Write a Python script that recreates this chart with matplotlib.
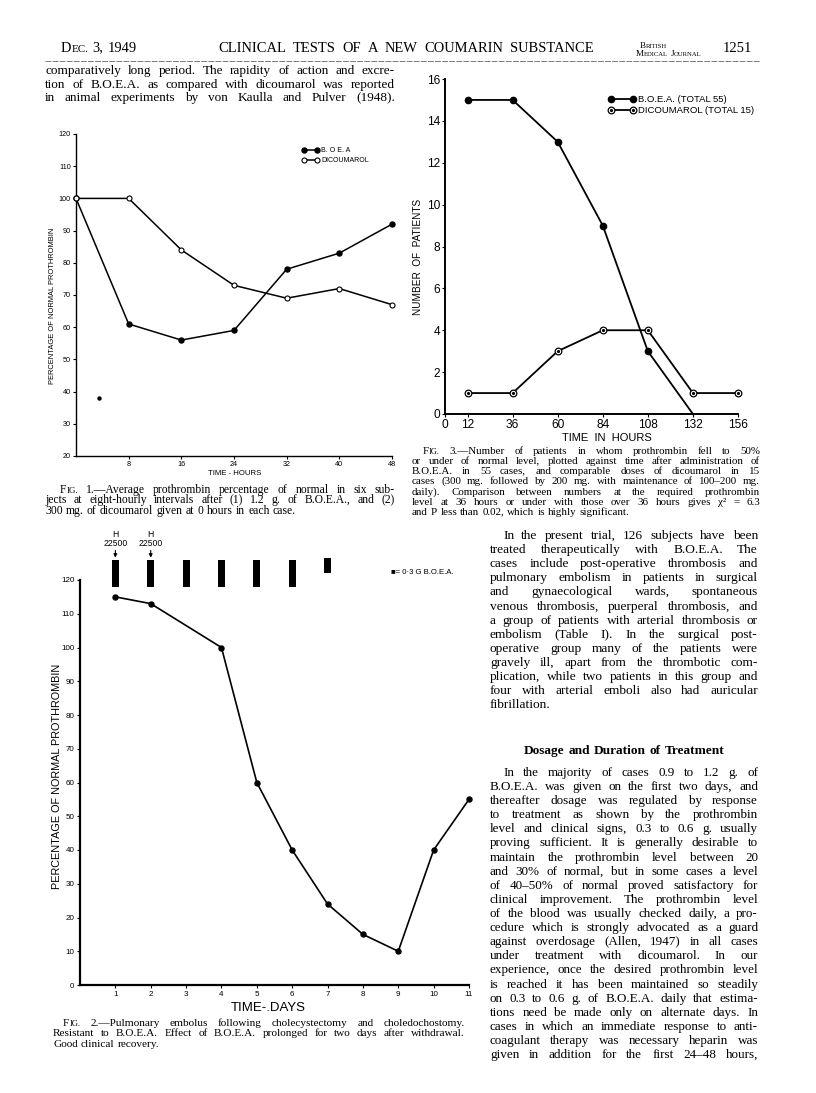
import math
import matplotlib
matplotlib.use("Agg")
import matplotlib.pyplot as plt
from matplotlib.lines import Line2D
from matplotlib.legend_handler import HandlerTuple

W, H = 816, 1093
SERIF = "Liberation Serif"
SANS = "Liberation Sans"

# ---- Fig. 1: average prothrombin % over 48 h
f1_hours = [0, 8, 16, 24, 32, 40, 48]
f1_boea = [100, 61, 56, 59, 78, 83, 92]
f1_dicoumarol = [100, 100, 84, 73, 69, 72, 67]
f1_speck_x = [3.5]
f1_speck_y = [38]

# ---- Fig. 3: patients whose prothrombin fell to 50%
f3_boea_hours = [12, 36, 60, 84, 108, 132]
f3_boea = [15, 15, 13, 9, 3, 0]
f3_dic_hours = [12, 36, 60, 84, 108, 132, 156]
f3_dicoumarol = [1, 1, 3, 4, 4, 1, 1]

# ---- Fig. 2: single case over 11 days
f2_days = [1, 2, 4, 5, 6, 7, 8, 9, 10, 11]
f2_prothrombin = [115, 113, 100, 60, 40, 24, 15, 10, 40, 55]
f2_dose_days = [1, 2, 3, 4, 5, 6, 7]
f2_dose_low = [118, 118, 118, 118, 118, 118, 122]
f2_dose_high = [126, 126, 126, 126, 126, 126, 126.5]
f2_heparin_days = [1, 2]
f2_heparin_units = ["22500", "22500"]

# ---- page text
top_para = [
    "comparatively long period. The rapidity of action and excre-",
    "tion of B.O.E.A. as compared with dicoumarol was reported",
    "in animal experiments by von Kaulla and Pulver (1948).",
]
fig1_caption = [
    "FIG. 1.\u2014Average prothrombin percentage of normal in six sub-",
    "jects at eight-hourly intervals after (1) 1.2 g. of B.O.E.A., and (2)",
    "300 mg. of dicoumarol given at 0 hours in each case.",
]
fig3_caption = [
    "FIG. 3.\u2014Number of patients in whom prothrombin fell to 50%",
    "or under of normal level, plotted against time after administration of",
    "B.O.E.A. in 55 cases, and comparable doses of dicoumarol in 15",
    "cases (300 mg. followed by 200 mg. with maintenance of 100\u2013200 mg.",
    "daily).  Comparison between numbers at the required prothrombin",
    "level at 36 hours or under with those over 36 hours gives \u03c7\u00b2 = 6.3",
    "and P less than 0.02, which is highly significant.",
]
fig2_caption = [
    "FIG. 2.\u2014Pulmonary embolus following cholecystectomy and choledochostomy.",
    "Resistant to B.O.E.A.  Effect of B.O.E.A. prolonged for two days after withdrawal.",
    "Good clinical recovery.",
]
para1 = [
    "In the present trial, 126 subjects have been",
    "treated therapeutically with B.O.E.A. The",
    "cases include post-operative thrombosis and",
    "pulmonary embolism in patients in surgical",
    "and gynaecological wards, spontaneous",
    "venous thrombosis, puerperal thrombosis, and",
    "a group of patients with arterial thrombosis or",
    "embolism (Table I). In the surgical post-",
    "operative group many of the patients were",
    "gravely ill, apart from the thrombotic com-",
    "plication, while two patients in this group and",
    "four with arterial emboli also had auricular",
    "fibrillation.",
]
heading = "Dosage and Duration of Treatment"
para2 = [
    "In the majority of cases 0.9 to 1.2 g. of",
    "B.O.E.A. was given on the first two days, and",
    "thereafter dosage was regulated by response",
    "to treatment as shown by the prothrombin",
    "level and clinical signs, 0.3 to 0.6 g. usually",
    "proving sufficient. It is generally desirable to",
    "maintain the prothrombin level between 20",
    "and 30% of normal, but in some cases a level",
    "of 40\u201350% of normal proved satisfactory for",
    "clinical improvement. The prothrombin level",
    "of the blood was usually checked daily, a pro-",
    "cedure which is strongly advocated as a guard",
    "against overdosage (Allen, 1947) in all cases",
    "under treatment with dicoumarol. In our",
    "experience, once the desired prothrombin level",
    "is reached it has been maintained so steadily",
    "on 0.3 to 0.6 g. of B.O.E.A. daily that estima-",
    "tions need be made only on alternate days. In",
    "cases in which an immediate response to anti-",
    "coagulant therapy was necessary heparin was",
    "given in addition for the first 24\u201348 hours,",
]

SMALLCAPS = {"FIG.", "DEC.", "BRITISH", "MEDICAL", "JOURNAL"}

fig = plt.figure(figsize=(W / 100, H / 100), dpi=100)
fig.patch.set_facecolor("white")
R = fig.canvas.get_renderer()


def rect(l, t, r, b):
    return [l / W, 1 - b / H, (r - l) / W, (b - t) / H]


def T(x, y, s, **kw):
    return fig.text(x / W, 1 - y / H, s, **kw)


def make_word(w, fs, family=SERIF, weight="normal", sc=0.76):
    if w in SMALLCAPS:
        arts = [fig.text(0, 0, w[0], fontsize=fs, family=family),
                fig.text(0, 0, w[1:], fontsize=fs * sc, family=family)]
    else:
        arts = [fig.text(0, 0, w, fontsize=fs, family=family, weight=weight)]
    return arts, [a.get_window_extent(R).width for a in arts]


def snapped_baseline(a, y):
    # Agg rounds each word's bitmap by its own descent; shift so that all
    # words of a line land on the same pixel row
    _, h, d = R.get_text_width_height_descent(a.get_text(),
                                              a.get_fontproperties(), False)
    return y + math.floor(h) - math.floor(h - d) - d


def natural_width(line, fs, **kw):
    total = 0
    words = line.split()
    for w in words:
        arts, ws = make_word(w, fs, **kw)
        total += sum(ws)
        for a in arts:
            a.remove()
    return total + (len(words) - 1) * fs * 100 / 72 * 0.25


def words_line(x0, x1, y, line, fs, justify=True, center=None, **kw):
    y = round(y)
    pieces = [make_word(w, fs, **kw) for w in line.split()]
    widths = [sum(ws) for _, ws in pieces]
    n = len(pieces)
    if justify and n > 1:
        gap = (x1 - x0 - sum(widths)) / (n - 1)
    else:
        gap = fs * 100 / 72 * 0.28
    if center is not None:
        x0 = center - (sum(widths) + gap * (n - 1)) / 2
    x = x0
    for arts, ws in pieces:
        for a, w in zip(arts, ws):
            a.set_va("baseline")
            a.set_position((x / W, 1 - snapped_baseline(a, y) / H))
            x += w
        x += gap


def fit_size(lines, x0, x1, indent, fs0, last_full):
    # size at which the tightest justified line has normal spacing
    ratios = []
    for i, ln in enumerate(lines):
        if i == len(lines) - 1 and not last_full:
            continue
        avail = x1 - x0 - (indent if i == 0 else 0)
        ratios.append(avail / natural_width(ln, fs0))
    return fs0 * min(ratios)


def block(lines, x0, x1, y0, step, fs0, indent=0, last_full=False, loose=0.92):
    fs = fit_size(lines, x0, x1, indent, fs0, last_full) * loose
    for i, ln in enumerate(lines):
        last = (i == len(lines) - 1) and not last_full
        words_line(x0 + (indent if i == 0 else 0), x1, y0 + i * step,
                   ln, fs, justify=not last)
    return fs


# ---- running head
title = "CLINICAL TESTS OF A NEW COUMARIN SUBSTANCE"
title_fs = 0.95 * 10 * (594 - 218) / natural_width(title, 10)
words_line(61, 0, 52, "DEC. 3, 1949", title_fs, justify=False)
words_line(218, 594, 52, title, title_fs)
words_line(0, 0, 48, "BRITISH", 6.6, justify=False, center=653, sc=0.72)
words_line(0, 0, 56, "MEDICAL JOURNAL", 6.6, justify=False, center=669, sc=0.72)
words_line(723, 0, 52, "1251", title_fs, justify=False)
fig.add_artist(Line2D([45 / W, 760 / W], [1 - 61 / H, 1 - 61 / H],
                      color="#666666", lw=0.6, ls=(0, (7, 1.5))))

block(top_para, 45, 395, 74, 13.6, 10, last_full=True)
block(fig1_caption, 45, 395, 493, 10.4, 7.6, indent=15, loose=0.88)
block(fig3_caption, 412, 760, 454, 10.15, 7.6, indent=11, loose=0.9)
body_fs = block(para1, 490, 758, 539, 14.1, 10, indent=13)
words_line(0, 0, 754, heading, body_fs, justify=False, center=624, weight="bold")
block(para2, 490, 758, 776, 14.1, 10, indent=13, last_full=True)
block(fig2_caption, 53, 465, 1026, 10.4, 7.6, indent=10, loose=0.9)

lab = dict(family=SANS, color="black")


def style(ax, lw, labelsize, pad=1.5):
    for s in ("top", "right"):
        ax.spines[s].set_visible(False)
    for s in ("left", "bottom"):
        ax.spines[s].set_linewidth(lw)
    ax.tick_params(direction="out", length=2.5, width=0.8,
                   labelsize=labelsize, pad=pad)
    for t in ax.get_xticklabels() + ax.get_yticklabels():
        t.set_family(SANS)


# ---- Fig. 1
ax1 = fig.add_axes(rect(76, 134, 392, 456))
b1, = ax1.plot(f1_hours, f1_boea, color="k", lw=1.1, marker="o", ms=3.6,
               mfc="k", mec="k", clip_on=False, zorder=3)
d1, = ax1.plot(f1_hours, f1_dicoumarol, color="k", lw=1.1, marker="o",
               ms=3.6, mfc="white", mec="k", mew=0.8, clip_on=False, zorder=4)
ax1.plot(f1_speck_x, f1_speck_y, "o", ms=2.2, color="k")
ax1.set_xlim(0, 48)
ax1.set_ylim(20, 120)
ax1.set_xticks([8, 16, 24, 32, 40, 48])
ax1.set_yticks(range(20, 121, 10))
style(ax1, 1.0, 5.2, pad=1.2)
ax1.legend([b1, d1], ["B. O E. A", "DICOUMAROL"], loc="upper left",
           bbox_to_anchor=(302 / W, 1 - 147 / H), bbox_transform=fig.transFigure,
           frameon=False, prop=dict(family=SANS, size=5),
           handlelength=2.4, handletextpad=0.4, labelspacing=0.45,
           borderpad=0, borderaxespad=0, numpoints=2)
T(53, 306, "PERCENTAGE OF NORMAL PROTHROMBIN", rotation=90, ha="center",
  va="center", fontsize=5.4, **lab)
T(235, 473, "TIME - HOURS", ha="center", va="center", fontsize=5.6, **lab)

# ---- Fig. 3
ax3 = fig.add_axes(rect(445, 79, 738, 414))
b3, = ax3.plot(f3_boea_hours, f3_boea, color="k", lw=1.3, marker="o", ms=4.5,
               mfc="k", markevery=[0, 1, 2, 3, 4], clip_on=False, zorder=3)
d3, = ax3.plot(f3_dic_hours, f3_dicoumarol, color="k", lw=1.3, marker="o",
               ms=4.8, mfc="white", mec="k", mew=0.9, clip_on=False, zorder=4)
d3c, = ax3.plot(f3_dic_hours, f3_dicoumarol, ls="none", marker="o", ms=1.3,
                color="k", clip_on=False, zorder=5)
ax3.set_xlim(0, 156)
ax3.set_ylim(0, 16)
ax3.set_xticks([0, 12, 36, 60, 84, 108, 132, 156])
ax3.set_yticks(range(0, 17, 2))
style(ax3, 1.4, 8.6, pad=1.0)
ax3.legend([b3, (d3, d3c)], ["B.O.E.A. (TOTAL 55)", "DICOUMAROL (TOTAL 15)"],
           handler_map={tuple: HandlerTuple(ndivide=1)}, loc="upper left",
           bbox_to_anchor=(608 / W, 1 - 95 / H), bbox_transform=fig.transFigure,
           frameon=False, prop=dict(family=SANS, size=6.8),
           handlelength=2.9, handletextpad=0.3, labelspacing=0.25,
           borderpad=0, borderaxespad=0, numpoints=2)
T(418, 257, "NUMBER  OF  PATIENTS", rotation=90, ha="center", va="center",
  fontsize=7.2, **lab)
T(607, 438, "TIME  IN  HOURS", ha="center", va="center", fontsize=8, **lab)

# ---- Fig. 2
ax2 = fig.add_axes(rect(80, 580, 469, 985))
ax2.plot(f2_days, f2_prothrombin, color="k", lw=1.2, marker="o", ms=3.6,
         mfc="k", clip_on=False, zorder=3)
ax2.bar(f2_dose_days, [h - l for h, l in zip(f2_dose_high, f2_dose_low)],
        bottom=f2_dose_low, width=0.2, color="k", clip_on=False)
for d, u in zip(f2_heparin_days, f2_heparin_units):
    ax2.annotate("H\n" + u, xy=(d, 126.6), xytext=(d, 129.6), ha="center",
                 va="bottom", fontsize=6.2, linespacing=1.0,
                 annotation_clip=False, family=SANS,
                 arrowprops=dict(arrowstyle="-|>", color="k", lw=0.8,
                                 mutation_scale=5, shrinkA=0, shrinkB=0))
ax2.set_xlim(0, 11)
ax2.set_ylim(0, 120)
ax2.set_xticks(range(1, 12))
ax2.set_yticks(range(0, 121, 10))
style(ax2, 1.6, 5.8)
T(391, 573, "\u25a0= 0\u00b73 G B.O.E.A.", ha="left", va="center",
  fontsize=5.6, **lab)
T(57, 776, "PERCENTAGE OF NORMAL PROTHROMBIN", rotation=90, ha="center",
  va="center", fontsize=7.8, **lab)
T(268, 1008, "TIME-.DAYS", ha="center", va="center", fontsize=9.5, **lab)

fig.savefig("out.png", dpi=100, facecolor="white")
